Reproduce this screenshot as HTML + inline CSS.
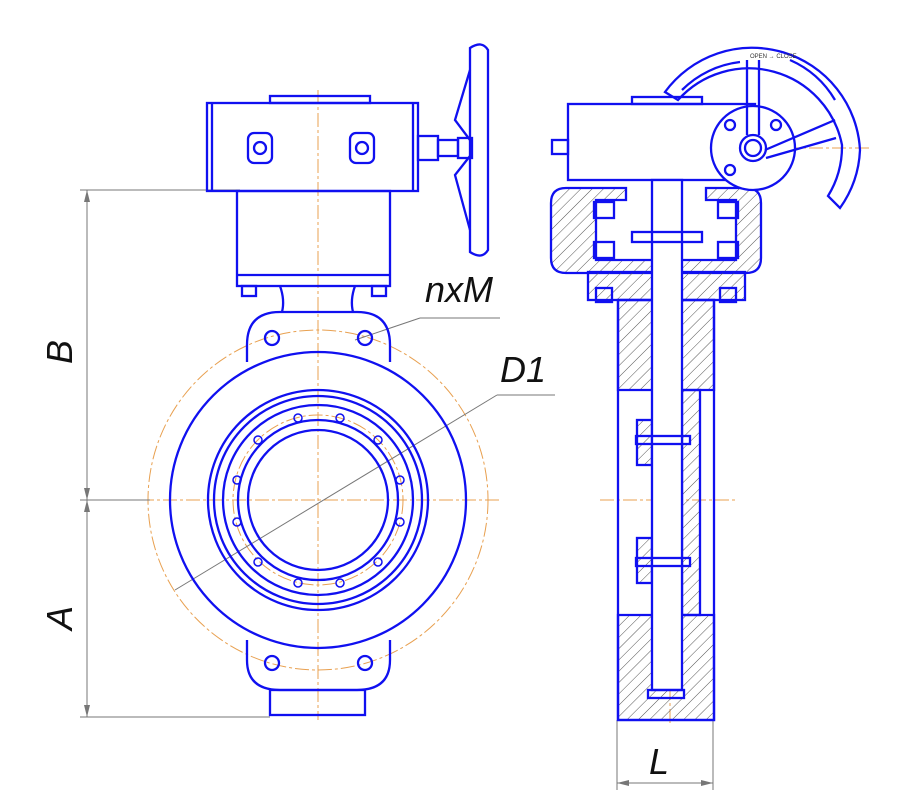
<!DOCTYPE html>
<html><head><meta charset="utf-8"><style>html,body{margin:0;padding:0;background:#fff}svg{display:block}</style></head>
<body>
<svg width="900" height="805" viewBox="0 0 900 805" xmlns="http://www.w3.org/2000/svg">
<defs>
<pattern id="h" width="8" height="8" patternUnits="userSpaceOnUse" patternTransform="rotate(45)">
<line x1="0" y1="0" x2="0" y2="8" stroke="#555" stroke-width="1"/>
</pattern>
</defs>
<g fill="none" stroke="#e8a050" stroke-width="1" stroke-dasharray="14 3 3 3">
<circle cx="318" cy="500" r="170"/>
<circle cx="318" cy="500" r="85"/>
<line x1="318" y1="90" x2="318" y2="720"/>
<line x1="140" y1="500" x2="500" y2="500"/>
<line x1="670" y1="180" x2="670" y2="725"/>
<line x1="600" y1="500" x2="735" y2="500"/>
<line x1="740" y1="148" x2="870" y2="148"/>
<circle cx="753" cy="148" r="28"/>
</g>
<g fill="none" stroke="#777" stroke-width="1">
<line x1="87" y1="190" x2="87" y2="717"/>
<line x1="80" y1="190" x2="240" y2="190"/>
<line x1="80" y1="500" x2="150" y2="500"/>
<line x1="80" y1="717" x2="270" y2="717"/>
<line x1="617" y1="720" x2="617" y2="790"/>
<line x1="713" y1="720" x2="713" y2="790"/>
<line x1="617" y1="783" x2="713" y2="783"/>
<line x1="355" y1="340" x2="420" y2="318"/>
<line x1="420" y1="318" x2="500" y2="318"/>
<line x1="175" y1="590" x2="497" y2="395"/>
<line x1="497" y1="395" x2="555" y2="395"/>
</g>
<g fill="#777">
<path d="M87 190 l-3 12 h6z"/><path d="M87 500 l-3 -12 h6z"/><path d="M87 500 l-3 12 h6z"/><path d="M87 717 l-3 -12 h6z"/>
<path d="M617 783 l12 -3 v6z"/><path d="M713 783 l-12 -3 v6z"/>
</g>
<g fill="none" stroke="#1010f0" stroke-width="2.3">
<path d="M247 345 Q247 312 280 312 L357 312 Q390 312 390 345 L390 362 M247 345 L247 362"/>
<path d="M247 640 L247 660 Q247 690 280 690 L357 690 Q390 690 390 660 L390 640"/>
<circle cx="318" cy="500" r="148"/>
<circle cx="318" cy="500" r="110"/>
<circle cx="318" cy="500" r="104"/>
<circle cx="318" cy="500" r="95"/>
<circle cx="318" cy="500" r="80"/>
<circle cx="318" cy="500" r="70"/>
<rect x="270" y="690" width="95" height="25"/>
<rect x="207" y="103" width="211" height="88"/>
<line x1="212" y1="103" x2="212" y2="191"/><line x1="413" y1="103" x2="413" y2="191"/>
<rect x="270" y="96" width="100" height="7"/>
<rect x="237" y="191" width="153" height="95"/>
<line x1="237" y1="275" x2="390" y2="275"/>
<path d="M280 286 Q285 300 282 312 M355 286 Q350 300 353 312"/>
<rect x="242" y="286" width="14" height="10"/><rect x="372" y="286" width="14" height="10"/>
<rect x="248" y="133" width="24" height="30" rx="6"/><circle cx="260" cy="148" r="6"/>
<rect x="350" y="133" width="24" height="30" rx="6"/><circle cx="362" cy="148" r="6"/>
<rect x="418" y="136" width="20" height="24"/><rect x="438" y="140" width="20" height="16"/><rect x="458" y="138" width="14" height="20"/>
<path d="M470 48 Q482 40 488 50 L488 250 Q482 260 470 252 Z"/>
<path d="M470 140 L455 120 L470 70 M470 156 L455 175 L470 230"/>
<circle cx="272" cy="338" r="7"/><circle cx="365" cy="338" r="7"/>
<circle cx="272" cy="663" r="7"/><circle cx="365" cy="663" r="7"/>
</g>
<g fill="none" stroke="#1010f0" stroke-width="1.5">
<circle cx="298" cy="418" r="4"/><circle cx="340" cy="418" r="4"/><circle cx="378" cy="440" r="4"/><circle cx="400" cy="480" r="4"/><circle cx="400" cy="522" r="4"/><circle cx="378" cy="562" r="4"/><circle cx="340" cy="583" r="4"/><circle cx="298" cy="583" r="4"/><circle cx="258" cy="562" r="4"/><circle cx="237" cy="522" r="4"/><circle cx="237" cy="480" r="4"/><circle cx="258" cy="440" r="4"/>
</g>
<g stroke="#1010f0" stroke-width="2.3">
<path d="M586 188 h40 v12 h-30 v60 h140 v-60 h-30 v-12 h40 q15 0 15 15 v55 q0 15 -15 15 h-180 q-15 0 -15 -15 v-55 q0 -15 15 -15z" fill="url(#h)"/>
<rect x="588" y="272" width="157" height="28" fill="url(#h)"/>
<path d="M618 300 h96 v90 h-96z" fill="url(#h)"/>
<path d="M618 615 h96 v105 h-96z" fill="url(#h)"/>
<rect x="682" y="390" width="18" height="225" fill="url(#h)"/>
<rect x="637" y="420" width="15" height="45" fill="url(#h)"/>
<rect x="637" y="538" width="15" height="45" fill="url(#h)"/>
</g>
<g fill="none" stroke="#1010f0" stroke-width="2.3">
<rect x="618" y="300" width="96" height="420"/>
<rect x="568" y="104" width="187" height="76"/>
<rect x="632" y="97" width="70" height="7"/>
<rect x="552" y="140" width="16" height="14"/>
<rect x="652" y="180" width="30" height="510" fill="#fff"/>
<rect x="632" y="232" width="70" height="10"/>
<rect x="594" y="202" width="20" height="16"/><rect x="718" y="202" width="20" height="16"/>
<rect x="594" y="242" width="20" height="16"/><rect x="718" y="242" width="20" height="16"/>
<rect x="596" y="288" width="16" height="14"/><rect x="720" y="288" width="16" height="14"/>
<rect x="636" y="436" width="54" height="8"/><rect x="636" y="558" width="54" height="8"/>
<rect x="648" y="690" width="36" height="8"/>
<circle cx="753" cy="148" r="42" fill="#fff"/>
<circle cx="753" cy="148" r="13"/><circle cx="753" cy="148" r="8"/>
<circle cx="730" cy="125" r="5"/><circle cx="776" cy="125" r="5"/><circle cx="730" cy="170" r="5"/>
<path d="M747 135 L747 60 M759 135 L759 60 M765 150 L835 120 M766 158 L836 138"/>
<path d="M665 92 A108 108 0 0 1 860 150 A108 108 0 0 1 840 208 L828 196 A95 95 0 0 0 842 145 A95 95 0 0 0 678 100 Z"/>
<path d="M682 90 A98 98 0 0 1 740 62" />
<path d="M790 60 A98 98 0 0 1 835 100"/>
</g>
<text x="750" y="58" font-family="Liberation Sans,sans-serif" font-size="6" fill="#333">OPEN → CLOSE</text>
<g font-family="Liberation Sans,sans-serif" font-style="italic" font-size="36" fill="#111">
<text x="425" y="302">nxM</text>
<text x="500" y="382">D1</text>
<text x="649" y="774">L</text>
<text transform="translate(72 364) rotate(-90)">B</text>
<text transform="translate(72 630) rotate(-90)">A</text>
</g>
</svg>
</body></html>
